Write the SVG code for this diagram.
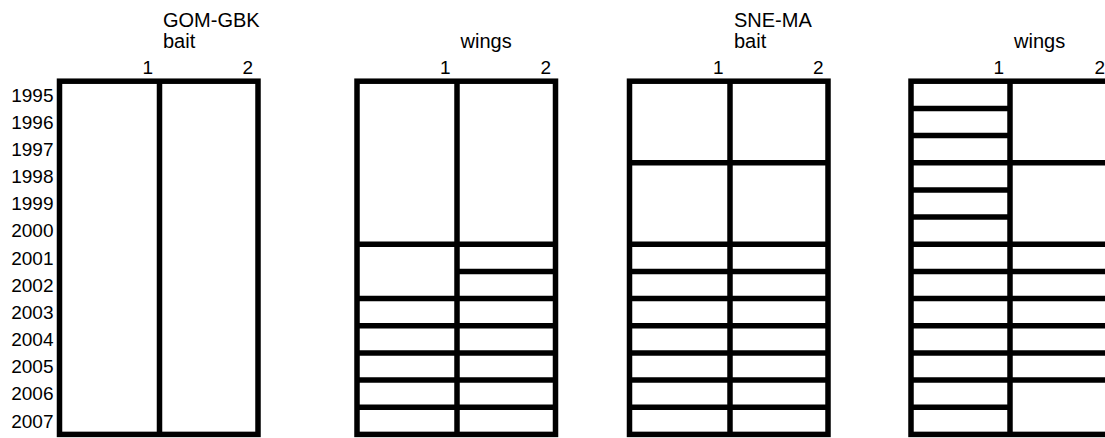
<svg xmlns="http://www.w3.org/2000/svg" width="1105" height="438" viewBox="0 0 1105 438">
<style>
text{font-family:"Liberation Sans",Arial,sans-serif;font-size:19px;fill:#000}
.t{font-size:20px}
.e{text-anchor:end}
.f{fill:none;stroke:#000;stroke-width:5.5}
.l{stroke:#000;stroke-width:5.5}
</style>
<rect width="1105" height="438" fill="#fff"/>
<g id="years">
<text class="e" x="53.5" y="101.6">1995</text>
<text class="e" x="53.5" y="128.8">1996</text>
<text class="e" x="53.5" y="155.9">1997</text>
<text class="e" x="53.5" y="183.1">1998</text>
<text class="e" x="53.5" y="210.3">1999</text>
<text class="e" x="53.5" y="237.4">2000</text>
<text class="e" x="53.5" y="264.6">2001</text>
<text class="e" x="53.5" y="291.8">2002</text>
<text class="e" x="53.5" y="318.9">2003</text>
<text class="e" x="53.5" y="346.1">2004</text>
<text class="e" x="53.5" y="373.3">2005</text>
<text class="e" x="53.5" y="400.4">2006</text>
<text class="e" x="53.5" y="427.6">2007</text>
</g>
<g id="panel-gom-bait">
<text class="t" x="163" y="27.3">GOM-GBK</text>
<text class="t" x="163" y="48.3">bait</text>
<text class="e" x="153" y="74">1</text>
<text class="e" x="253" y="74">2</text>
<rect class="f" x="59.5" y="81.2" width="198.5" height="353.2"/>
<line class="l" x1="159.5" y1="81.2" x2="159.5" y2="434.4"/>
</g>
<g id="panel-gom-wings">
<text class="t" x="460.5" y="48.3">wings</text>
<text class="e" x="450.5" y="74">1</text>
<text class="e" x="551" y="74">2</text>
<rect class="f" x="357" y="81.2" width="198.5" height="353.2"/>
<line class="l" x1="457" y1="81.2" x2="457" y2="434.4"/>
<line class="l" x1="357" y1="244.2" x2="555.5" y2="244.2"/>
<line class="l" x1="457" y1="271.4" x2="555.5" y2="271.4"/>
<line class="l" x1="357" y1="298.6" x2="555.5" y2="298.6"/>
<line class="l" x1="357" y1="325.7" x2="555.5" y2="325.7"/>
<line class="l" x1="357" y1="352.9" x2="555.5" y2="352.9"/>
<line class="l" x1="357" y1="380.1" x2="555.5" y2="380.1"/>
<line class="l" x1="357" y1="407.2" x2="555.5" y2="407.2"/>
</g>
<g id="panel-sne-bait">
<text class="t" x="734" y="27.3">SNE-MA</text>
<text class="t" x="734" y="48.3">bait</text>
<text class="e" x="723.5" y="74">1</text>
<text class="e" x="823.5" y="74">2</text>
<rect class="f" x="629.5" y="81.2" width="198.5" height="353.2"/>
<line class="l" x1="730" y1="81.2" x2="730" y2="434.4"/>
<line class="l" x1="629.5" y1="162.7" x2="828" y2="162.7"/>
<line class="l" x1="629.5" y1="244.2" x2="828" y2="244.2"/>
<line class="l" x1="629.5" y1="271.4" x2="828" y2="271.4"/>
<line class="l" x1="629.5" y1="298.6" x2="828" y2="298.6"/>
<line class="l" x1="629.5" y1="325.7" x2="828" y2="325.7"/>
<line class="l" x1="629.5" y1="352.9" x2="828" y2="352.9"/>
<line class="l" x1="629.5" y1="380.1" x2="828" y2="380.1"/>
<line class="l" x1="629.5" y1="407.2" x2="828" y2="407.2"/>
</g>
<g id="panel-sne-wings">
<text class="t" x="1014" y="48.3">wings</text>
<text class="e" x="1004" y="74">1</text>
<text class="e" x="1105" y="74">2</text>
<rect class="f" x="911" y="81.2" width="198.5" height="353.2"/>
<line class="l" x1="1010" y1="81.2" x2="1010" y2="434.4"/>
<line class="l" x1="911" y1="108.4" x2="1010" y2="108.4"/>
<line class="l" x1="911" y1="135.5" x2="1010" y2="135.5"/>
<line class="l" x1="911" y1="162.7" x2="1109.5" y2="162.7"/>
<line class="l" x1="911" y1="189.9" x2="1010" y2="189.9"/>
<line class="l" x1="911" y1="217.1" x2="1010" y2="217.1"/>
<line class="l" x1="911" y1="244.2" x2="1109.5" y2="244.2"/>
<line class="l" x1="911" y1="271.4" x2="1109.5" y2="271.4"/>
<line class="l" x1="911" y1="298.6" x2="1109.5" y2="298.6"/>
<line class="l" x1="911" y1="325.7" x2="1109.5" y2="325.7"/>
<line class="l" x1="911" y1="352.9" x2="1109.5" y2="352.9"/>
<line class="l" x1="911" y1="380.1" x2="1109.5" y2="380.1"/>
<line class="l" x1="911" y1="407.2" x2="1010" y2="407.2"/>
</g>
<g id="connectors"/>
</svg>
